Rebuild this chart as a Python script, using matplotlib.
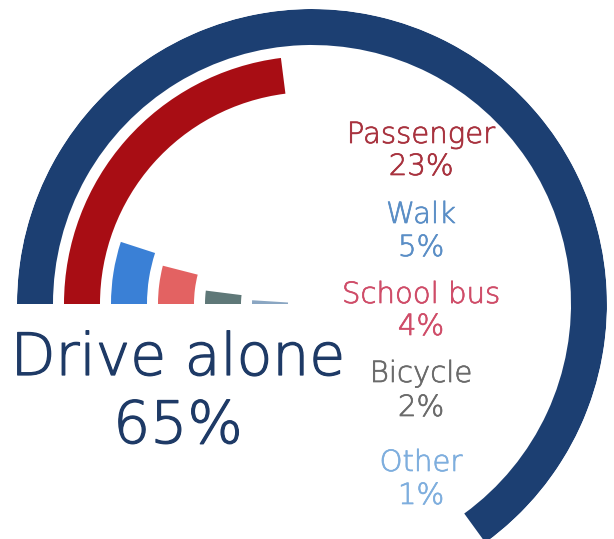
import numpy as np
import matplotlib
matplotlib.use("Agg")
import matplotlib.pyplot as plt
import matplotlib.patheffects as pe

# Commute mode shares (%)
modes = ["Drive alone", "Passenger", "Walk", "School bus", "Bicycle", "Other"]
shares = [65, 23, 5, 4, 2, 1]
pct_labels = ["65%", "23%", "5%", "4%", "2%", "1%"]

bar_colors = ["#1c3f72", "#a80d14", "#3a80d6", "#e36262", "#5f7878", "#8aa6c2"]
text_colors = ["#1e3a66", "#a8323e", "#5a8ec6", "#cf4c68", "#6a6a6a", "#7eaede"]

W, H = 614, 539
fig = plt.figure(figsize=(W / 100, H / 100), dpi=100)

# Polar axes centred at pixel (312, 304) with outer radius 295 px
cx, cy, rmax = 312, 304, 295
ax = fig.add_axes([(cx - rmax) / W, (H - cy - rmax) / H, 2 * rmax / W, 2 * rmax / H],
                  projection="polar")
ax.set_theta_zero_location("W")
ax.set_theta_direction(-1)
ax.set_rlim(0, rmax)
ax.set_axis_off()

ring_width = 36
ring_pitch = 47
for i, (share, col) in enumerate(zip(shares, bar_colors)):
    outer = rmax - i * ring_pitch
    ax.bar(0, ring_width, width=np.deg2rad(share / 100 * 360), bottom=outer - ring_width,
           align="edge", color=col, edgecolor="none")

font = ["DejaVu Sans"]


def put(x, y, s, size, color, stroke):
    fig.text(x / W, 1 - y / H, s, ha="center", va="baseline", fontsize=size,
             color=color, family=font, fontweight="light",
             path_effects=[pe.withStroke(linewidth=stroke, foreground=color)])


# Main category label
put(178, 375, modes[0], 42, text_colors[0], 0.9)
put(178, 443, pct_labels[0], 42, text_colors[0], 0.9)

# Smaller categories on the right
name_base = [143, 223, 303, 382, 471]
pct_base = [175, 256, 335, 416, 504]
for i in range(1, len(modes)):
    put(421, name_base[i - 1], modes[i], 21, text_colors[i], 0.5)
    put(421, pct_base[i - 1], pct_labels[i], 21, text_colors[i], 0.5)

fig.savefig("out.png", dpi=100, facecolor="white")
